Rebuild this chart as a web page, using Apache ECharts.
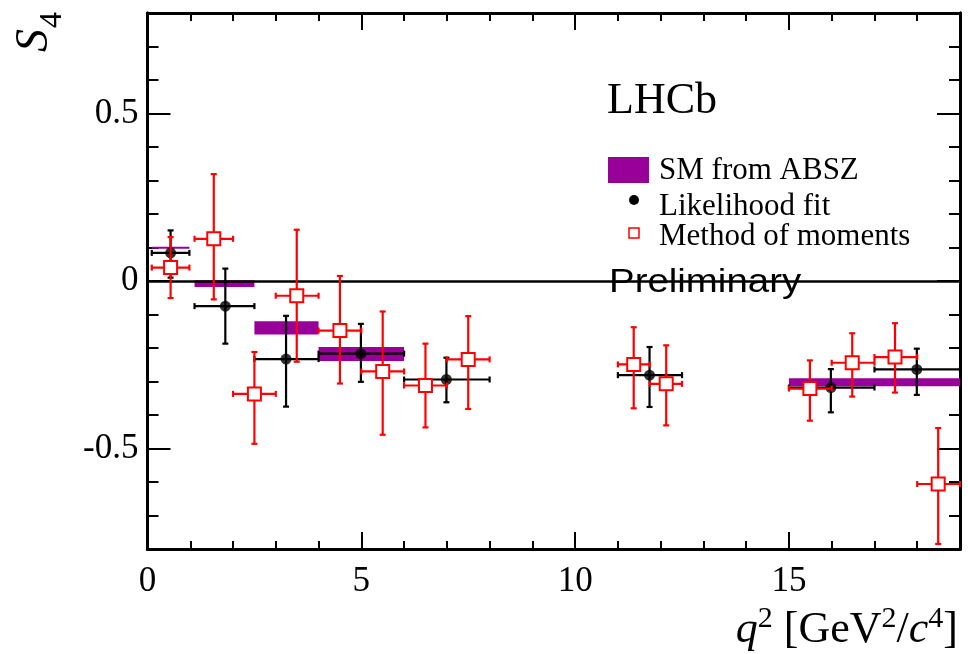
<!DOCTYPE html>
<html>
<head>
<meta charset="utf-8">
<script src="https://cdn.jsdelivr.net/npm/echarts@6/dist/echarts.min.js"></script>
<style>
    html, body { margin: 0; padding: 0; background: #fff; }
    #chart { width: 968px; height: 654px; }
</style>
</head>
<body>
<div id="chart"></div>
<script>
(function (window) {
    'use strict';

    // SM from ABSZ (bands)
    var smLo = [0.1, 1.1, 2.5, 4.0, 15.0];
    var smHi = [0.98, 2.5, 4.0, 6.0, 19.0];
    var smVal = [0.099, -0.008, -0.140, -0.218, -0.302];
    var smErr = [0.003, 0.010, 0.020, 0.021, 0.012];

    // Likelihood fit
    var llX = [0.54, 1.82, 3.24, 4.99, 6.99, 11.74, 15.98, 17.99];
    var llXLo = [0.1, 1.1, 2.5, 4.0, 6.0, 11.0, 15.0, 17.0];
    var llXHi = [0.98, 2.5, 4.0, 6.0, 8.0, 12.5, 17.0, 19.0];
    var llY = [0.084, -0.075, -0.233, -0.217, -0.294, -0.281, -0.318, -0.264];
    var llYLo = [0.010, -0.187, -0.375, -0.301, -0.362, -0.376, -0.392, -0.340];
    var llYHi = [0.151, 0.037, -0.104, -0.128, -0.229, -0.197, -0.263, -0.202];

    // Method of moments
    var momX = [0.54, 1.55, 2.50, 3.49, 4.50, 5.50, 6.50, 7.50, 11.37, 12.13, 15.49, 16.48, 17.48, 18.49];
    var momXLo = [0.1, 1.1, 2.0, 3.0, 4.0, 5.0, 6.0, 7.0, 11.0, 11.75, 15.0, 16.0, 17.0, 18.0];
    var momXHi = [0.98, 2.0, 3.0, 4.0, 5.0, 6.0, 7.0, 8.0, 11.75, 12.5, 16.0, 17.0, 18.0, 19.0];
    var momY = [0.040, 0.126, -0.337, -0.044, -0.148, -0.270, -0.312, -0.234, -0.249, -0.307, -0.321, -0.244, -0.227, -0.606];
    var momYLo = [-0.051, -0.055, -0.486, -0.241, -0.306, -0.459, -0.437, -0.382, -0.380, -0.431, -0.417, -0.345, -0.333, -0.785];
    var momYHi = [0.131, 0.319, -0.212, 0.153, 0.015, -0.091, -0.187, -0.105, -0.138, -0.192, -0.237, -0.156, -0.126, -0.439];

    // ticks
    var xMajor = [0, 5, 10, 15];
    var xMinor = [1, 2, 3, 4, 6, 7, 8, 9, 11, 12, 13, 14, 16, 17, 18];
    var yMajor = [-0.5, 0, 0.5];
    var yMinor = [-0.7, -0.6, -0.4, -0.3, -0.2, -0.1, 0.1, 0.2, 0.3, 0.4, 0.6, 0.7];

    var serif = '"Liberation Serif", "Times New Roman", serif';
    var purple = '#990099';

    function xAxis(pos, ticks, len, labels) {
        return {
            type: 'value', min: 0, max: 19, position: pos,
            axisLine: { show: true, onZero: false, lineStyle: { color: '#000', width: 3 } },
            axisTick: { show: true, inside: true, length: len, customValues: ticks,
                lineStyle: { color: '#000', width: 2 } },
            axisLabel: labels ? { show: true, customValues: xMajor, color: '#000',
                fontFamily: serif, fontSize: 35, margin: 15 } : { show: false },
            splitLine: { show: false }
        };
    }

    function yAxis(pos, ticks, len, labels) {
        return {
            type: 'value', min: -0.8, max: 0.8, position: pos,
            axisLine: { show: true, onZero: false, lineStyle: { color: '#000', width: 3 } },
            axisTick: { show: true, inside: true, length: len, customValues: ticks,
                lineStyle: { color: '#000', width: 2 } },
            axisLabel: labels ? { show: true, customValues: yMajor, color: '#000',
                fontFamily: serif, fontSize: 35, margin: 9 } : { show: false },
            splitLine: { show: false }
        };
    }

    // error bar with caps
    function errRender(color) {
        return function (params, api) {
            var x = api.value(0), y = api.value(1);
            var c = api.coord([x, y]);
            var l = api.coord([api.value(2), y]);
            var r = api.coord([api.value(3), y]);
            var b = api.coord([x, api.value(4)]);
            var t = api.coord([x, api.value(5)]);
            var st = { stroke: color, lineWidth: 2.2 };
            var cap = 3;
            return {
                type: 'group',
                children: [
                    { type: 'line', shape: { x1: l[0], y1: c[1], x2: r[0], y2: c[1] }, style: st },
                    { type: 'line', shape: { x1: c[0], y1: t[1], x2: c[0], y2: b[1] }, style: st },
                    { type: 'line', shape: { x1: l[0], y1: c[1] - cap, x2: l[0], y2: c[1] + cap }, style: st },
                    { type: 'line', shape: { x1: r[0], y1: c[1] - cap, x2: r[0], y2: c[1] + cap }, style: st },
                    { type: 'line', shape: { x1: c[0] - cap, y1: t[1], x2: c[0] + cap, y2: t[1] }, style: st },
                    { type: 'line', shape: { x1: c[0] - cap, y1: b[1], x2: c[0] + cap, y2: b[1] }, style: st }
                ]
            };
        };
    }

    function bandRender(params, api) {
        var v = api.value(2), e = api.value(3);
        var p1 = api.coord([api.value(0), v + e]);
        var p2 = api.coord([api.value(1), v - e]);
        return {
            type: 'rect',
            shape: { x: p1[0], y: p1[1], width: p2[0] - p1[0], height: Math.max(p2[1] - p1[1], 1.5) },
            style: { fill: purple }
        };
    }

    var smData = smLo.map(function (lo, i) { return [lo, smHi[i], smVal[i], smErr[i]]; });
    var llErr = llX.map(function (x, i) { return [x, llY[i], llXLo[i], llXHi[i], llYLo[i], llYHi[i]]; });
    var momErr = momX.map(function (x, i) { return [x, momY[i], momXLo[i], momXHi[i], momYLo[i], momYHi[i]]; });
    var llPts = llX.map(function (x, i) { return [x, llY[i]]; });
    var momPts = momX.map(function (x, i) { return [x, momY[i]]; });

    var chart = echarts.init(document.getElementById('chart'));
    var option = {
        animation: false,
        backgroundColor: '#fff',
        grid: { left: 147.5, right: 8, top: 13, bottom: 105, containLabel: false },
        xAxis: [
            xAxis('bottom', xMajor, 17, true),
            xAxis('bottom', xMinor, 8, false),
            xAxis('top', xMajor, 17, false),
            xAxis('top', xMinor, 8, false)
        ],
        yAxis: [
            yAxis('left', yMajor, 23, true),
            yAxis('left', yMinor, 11, false),
            yAxis('right', yMajor, 23, false),
            yAxis('right', yMinor, 11, false)
        ],
        series: [{
            name: 'SM from ABSZ',
            type: 'custom',
            renderItem: bandRender,
            encode: { x: [0, 1], y: 2 },
            data: smData,
            z: 2,
            markLine: {
                silent: true,
                symbol: ['none', 'none'],
                label: { show: false },
                lineStyle: { color: '#000', width: 2.5, type: 'solid' },
                data: [{ yAxis: 0 }]
            }
        }, {
            name: 'Likelihood fit err',
            type: 'custom',
            renderItem: errRender('#000'),
            encode: { x: 0, y: 1 },
            data: llErr,
            z: 3
        }, {
            name: 'Likelihood fit',
            type: 'scatter',
            symbol: 'circle',
            symbolSize: 11,
            itemStyle: { color: '#000' },
            data: llPts,
            z: 4
        }, {
            name: 'Method of moments err',
            type: 'custom',
            renderItem: errRender('#ff0000'),
            encode: { x: 0, y: 1 },
            data: momErr,
            z: 5
        }, {
            name: 'Method of moments',
            type: 'scatter',
            symbol: 'rect',
            symbolSize: 13,
            itemStyle: { color: '#fff', borderColor: '#ff0000', borderWidth: 2, opacity: 1 },
            data: momPts,
            z: 6
        }],
        graphic: [
            // axis titles
            { type: 'text', x: 35, y: 52, rotation: Math.PI / 2,
              style: { text: 'S', font: 'italic 46px ' + serif, fill: '#000', align: 'left', verticalAlign: 'middle' } },
            { type: 'text', x: 53, y: 28, rotation: Math.PI / 2,
              style: { text: '4', font: '32px ' + serif, fill: '#000', align: 'left', verticalAlign: 'middle' } },
            { type: 'text', x: 958, y: 628,
              style: {
                  text: '{i|q}{s|2}{n| [GeV}{s|2}{n|/}{i|c}{s|4}{n|]}',
                  align: 'right', verticalAlign: 'middle', fill: '#000',
                  rich: {
                      i: { fontFamily: serif, fontStyle: 'italic', fontSize: 44, lineHeight: 48, verticalAlign: 'bottom' },
                      n: { fontFamily: serif, fontSize: 44, lineHeight: 48, verticalAlign: 'bottom' },
                      s: { fontFamily: serif, fontSize: 30, lineHeight: 48, verticalAlign: 'top' }
                  }
              } },
            // labels
            { type: 'text', x: 607, y: 101,
              style: { text: 'LHCb', font: '44px ' + serif, fill: '#000', align: 'left', verticalAlign: 'middle' } },
            { type: 'text', x: 609, y: 283, scaleX: 1.13,
              style: { text: 'Preliminary', font: '34px "Liberation Sans", Arial, sans-serif', fill: '#000', align: 'left', verticalAlign: 'middle' } },
            // legend
            { type: 'rect', shape: { x: 608, y: 157, width: 41, height: 26 }, style: { fill: purple } },
            { type: 'text', x: 659, y: 171,
              style: { text: 'SM from ABSZ', font: '31px ' + serif, fill: '#000', align: 'left', verticalAlign: 'middle' } },
            { type: 'circle', shape: { cx: 634, cy: 200, r: 5 }, style: { fill: '#000' } },
            { type: 'text', x: 659, y: 207,
              style: { text: 'Likelihood fit', font: '31px ' + serif, fill: '#000', align: 'left', verticalAlign: 'middle' } },
            { type: 'rect', shape: { x: 629, y: 228, width: 10, height: 10 }, style: { fill: '#fff', stroke: '#ff0000', lineWidth: 1.5 } },
            { type: 'text', x: 659, y: 237,
              style: { text: 'Method of moments', font: '31px ' + serif, fill: '#000', align: 'left', verticalAlign: 'middle' } }
        ]
    };
    chart.setOption(option);
})(window);
</script>
</body>
</html>
